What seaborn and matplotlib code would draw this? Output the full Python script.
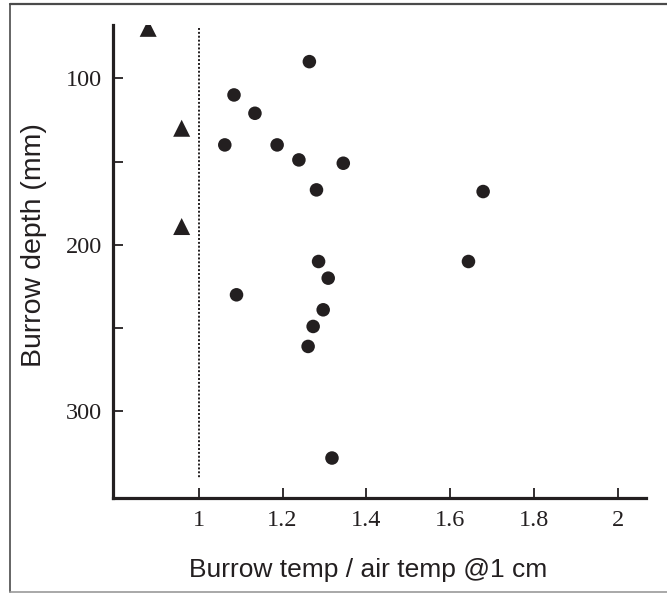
import matplotlib
matplotlib.use("Agg")
import matplotlib.pyplot as plt
import seaborn as sns
import pandas as pd
from matplotlib.lines import Line2D

# ---- data ----
tri_x = [0.879, 0.959, 0.959]
tri_y = [70, 130, 189]
circ_x = [1.264, 1.084, 1.134, 1.062, 1.187, 1.239, 1.345, 1.281, 1.679,
          1.286, 1.309, 1.644, 1.090, 1.297, 1.273, 1.261, 1.318]
circ_y = [90, 110, 121, 140, 140, 149, 151, 167, 168,
          210, 220, 210, 230, 239, 249, 261, 328]
x_ticks = [1, 1.2, 1.4, 1.6, 1.8, 2]
x_ticklabels = ["1", "1.2", "1.4", "1.6", "1.8", "2"]
y_ticks = [100, 150, 200, 250, 300]
y_ticklabels = ["100", "", "200", "", "300"]
ref_x = 1.0

df = pd.DataFrame({
    "ratio": tri_x + circ_x,
    "depth": tri_y + circ_y,
    "group": ["tri"] * len(tri_x) + ["circ"] * len(circ_x),
})

sns.set_theme(style="ticks")
ink = "#231f20"

fig = plt.figure(figsize=(6.67, 5.94), dpi=100)
ax = fig.add_axes([113 / 667, 1 - 498 / 594, (646 - 113) / 667, (498 - 25) / 594])

ax.plot([ref_x, ref_x], [70, 340], linestyle=(0, (1, 1)), color=ink, linewidth=1.4, zorder=1)

sns.scatterplot(data=df[df.group == "circ"], x="ratio", y="depth", ax=ax,
                marker="o", s=95, color=ink, edgecolor="none", legend=False, zorder=3)
sns.scatterplot(data=df[df.group == "tri"], x="ratio", y="depth", ax=ax,
                marker="^", s=150, color=ink, edgecolor="none", legend=False, zorder=3)

ax.set_xlim(0.795, 2.068)
ax.set_ylim(352, 68)

for side in ["top", "right"]:
    ax.spines[side].set_visible(False)
for side in ["left", "bottom"]:
    ax.spines[side].set_linewidth(2.3)
    ax.spines[side].set_color(ink)

ax.set_xticks(x_ticks, labels=x_ticklabels)
ax.set_yticks(y_ticks, labels=y_ticklabels)
ax.tick_params(axis="both", which="major", direction="in", length=7, width=1.3,
               color=ink, labelcolor=ink, labelsize=17.5,
               bottom=True, left=True, top=False, right=False)
ax.tick_params(axis="x", pad=9)
ax.tick_params(axis="y", pad=8)
for lab in ax.get_xticklabels() + ax.get_yticklabels():
    lab.set_family("Liberation Serif")

ax.set_xlabel("Burrow temp / air temp @1 cm", fontsize=19, family="Liberation Sans",
              color=ink)
ax.set_ylabel("Burrow depth (mm)", fontsize=20.5, family="Liberation Sans",
              color=ink)
ax.xaxis.set_label_coords(0.478, -0.127)
ax.yaxis.set_label_coords(-0.124, 0.535)
ax.set_facecolor("white")
ax.grid(False)

# figure border
bc = "#4a4a4a"
fig.add_artist(Line2D([10 / 667, 1.0], [1 - 4 / 594, 1 - 4 / 594], color=bc, lw=1.6, transform=fig.transFigure))
fig.add_artist(Line2D([10 / 667, 10 / 667], [1 - 4 / 594, 1 - 592 / 594], color=bc, lw=1.2, transform=fig.transFigure))
fig.add_artist(Line2D([10 / 667, 1.0], [1 - 592 / 594, 1 - 592 / 594], color="#999999", lw=1.2, transform=fig.transFigure))

fig.savefig("out.png", dpi=100, facecolor="white")
